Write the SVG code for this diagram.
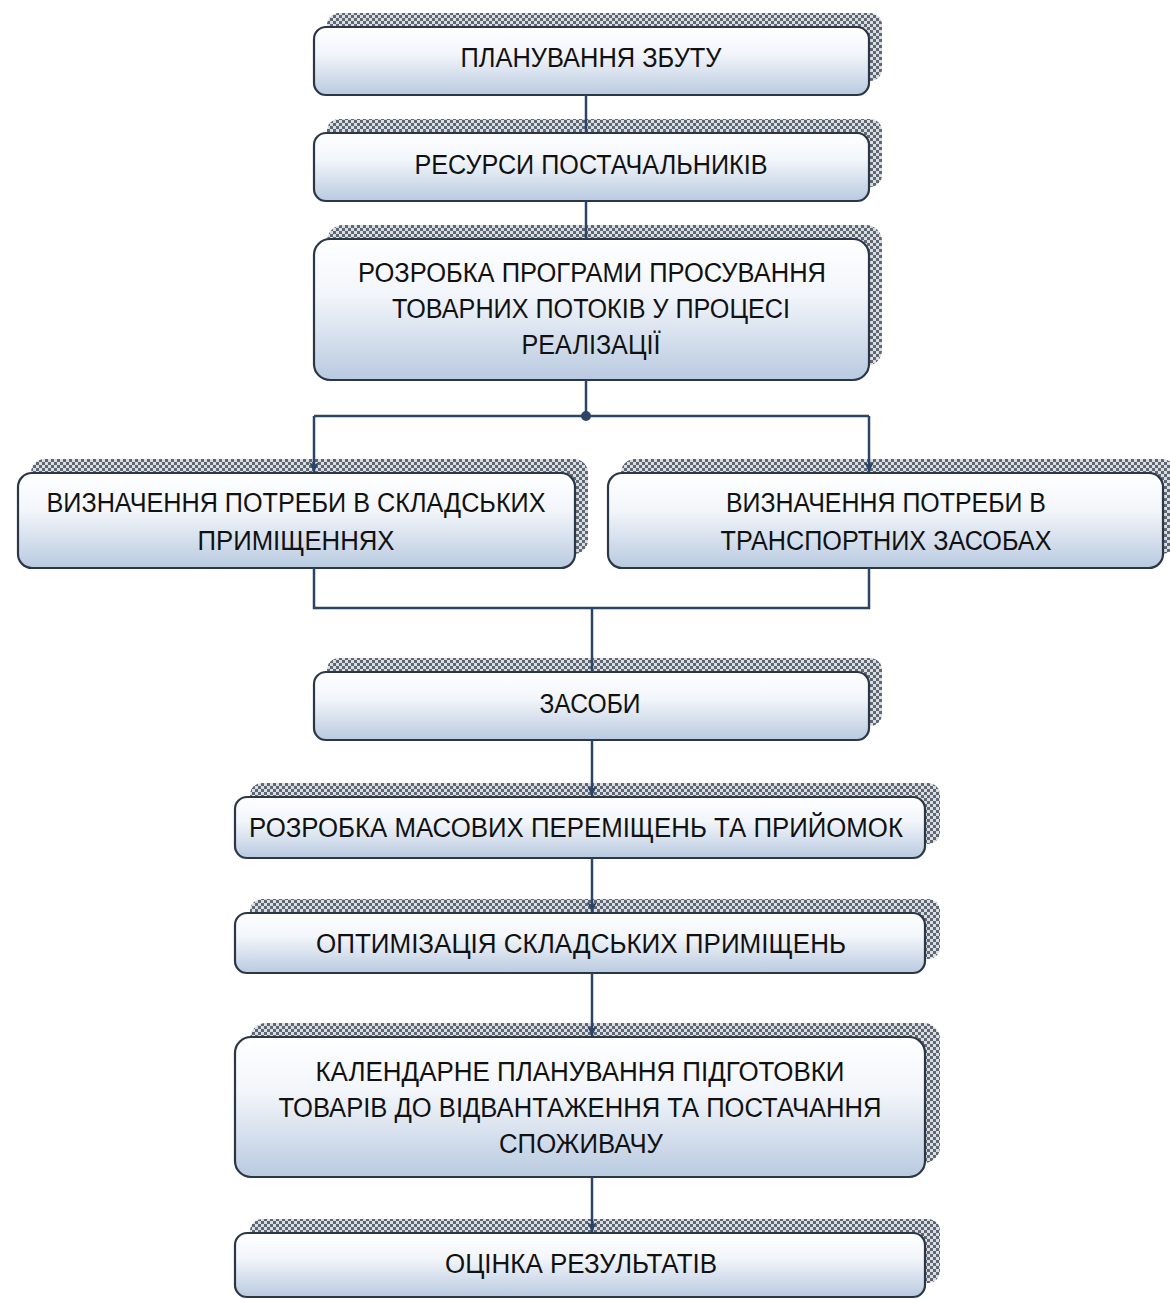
<svg xmlns="http://www.w3.org/2000/svg" width="1170" height="1299" viewBox="0 0 1170 1299">
<defs>
<linearGradient id="fillG" x1="0" y1="0" x2="0" y2="1">
<stop offset="0" stop-color="#ffffff"/>
<stop offset="0.4" stop-color="#f2f5fa"/>
<stop offset="1" stop-color="#b9cae0"/>
</linearGradient>
<pattern id="chk" width="6" height="6" patternUnits="userSpaceOnUse">
<rect width="6" height="6" fill="#dadde2"/>
<rect width="3" height="3" fill="#5f6772"/>
<rect x="3" y="3" width="3" height="3" fill="#5f6772"/>
</pattern>
<marker id="arr" viewBox="0 0 10 10" refX="10" refY="5" markerWidth="4" markerHeight="4" orient="auto" markerUnits="strokeWidth">
<path d="M0,0 L10,5 L0,10 L3,5 z" fill="#2c4566"/>
</marker>
</defs>
<style>
.sh{fill:url(#chk);}
.bx{fill:url(#fillG);stroke:#2b3747;stroke-width:2.2;}
.t{font-family:"Liberation Sans",Arial,sans-serif;font-size:27px;fill:#111;text-anchor:middle;}
.c{fill:none;stroke:#2c4566;stroke-width:2.5;}
</style>
<rect width="1170" height="1299" fill="#ffffff"/>

<g id="n1">
<rect class="sh" x="327" y="13" width="555" height="68" rx="12"/>
<rect class="bx" x="314" y="27" width="555" height="68" rx="12"/>
<text class="t" x="591" y="67" textLength="261" lengthAdjust="spacingAndGlyphs">ПЛАНУВАННЯ ЗБУТУ</text>
</g>
<g id="n2">
<rect class="sh" x="327" y="119" width="555" height="68" rx="12"/>
<rect class="bx" x="314" y="133" width="555" height="68" rx="12"/>
<text class="t" x="591" y="174" textLength="353" lengthAdjust="spacingAndGlyphs">РЕСУРСИ ПОСТАЧАЛЬНИКІВ</text>
</g>
<g id="n3">
<rect class="sh" x="327" y="225" width="555" height="141" rx="16"/>
<rect class="bx" x="314" y="239" width="555" height="141" rx="16"/>
<text class="t" x="592" y="282" textLength="468" lengthAdjust="spacingAndGlyphs">РОЗРОБКА ПРОГРАМИ ПРОСУВАННЯ</text>
<text class="t" x="591" y="318" textLength="398" lengthAdjust="spacingAndGlyphs">ТОВАРНИХ ПОТОКІВ У ПРОЦЕСІ</text>
<text class="t" x="591" y="354" textLength="139" lengthAdjust="spacingAndGlyphs">РЕАЛІЗАЦІЇ</text>
</g>
<g id="n4">
<rect class="sh" x="31" y="459" width="557" height="95" rx="14"/>
<rect class="bx" x="18" y="473" width="557" height="95" rx="14"/>
<text class="t" x="296" y="512" textLength="499" lengthAdjust="spacingAndGlyphs">ВИЗНАЧЕННЯ ПОТРЕБИ В СКЛАДСЬКИХ</text>
<text class="t" x="296" y="550" textLength="197" lengthAdjust="spacingAndGlyphs">ПРИМІЩЕННЯХ</text>
</g>
<g id="n5">
<rect class="sh" x="621" y="459" width="555" height="95" rx="14"/>
<rect class="bx" x="608" y="473" width="555" height="95" rx="14"/>
<text class="t" x="886" y="512" textLength="320" lengthAdjust="spacingAndGlyphs">ВИЗНАЧЕННЯ ПОТРЕБИ В</text>
<text class="t" x="886" y="550" textLength="331" lengthAdjust="spacingAndGlyphs">ТРАНСПОРТНИХ ЗАСОБАХ</text>
</g>
<g id="n6">
<rect class="sh" x="327" y="658" width="555" height="68" rx="12"/>
<rect class="bx" x="314" y="672" width="555" height="68" rx="12"/>
<text class="t" x="590" y="713" textLength="101" lengthAdjust="spacingAndGlyphs">ЗАСОБИ</text>
</g>
<g id="n7">
<rect class="sh" x="250" y="783" width="690" height="61" rx="12"/>
<rect class="bx" x="235" y="797" width="690" height="61" rx="12"/>
<text class="t" x="576" y="837" textLength="654" lengthAdjust="spacingAndGlyphs">РОЗРОБКА МАСОВИХ ПЕРЕМІЩЕНЬ ТА ПРИЙОМОК</text>
</g>
<g id="n8">
<rect class="sh" x="250" y="899" width="690" height="60" rx="12"/>
<rect class="bx" x="235" y="913" width="690" height="60" rx="12"/>
<text class="t" x="581" y="953" textLength="530" lengthAdjust="spacingAndGlyphs">ОПТИМІЗАЦІЯ СКЛАДСЬКИХ ПРИМІЩЕНЬ</text>
</g>
<g id="n9">
<rect class="sh" x="250" y="1023" width="690" height="140" rx="16"/>
<rect class="bx" x="235" y="1037" width="690" height="140" rx="16"/>
<text class="t" x="580" y="1081" textLength="529" lengthAdjust="spacingAndGlyphs">КАЛЕНДАРНЕ ПЛАНУВАННЯ ПІДГОТОВКИ</text>
<text class="t" x="580" y="1117" textLength="603" lengthAdjust="spacingAndGlyphs">ТОВАРІВ ДО ВІДВАНТАЖЕННЯ ТА ПОСТАЧАННЯ</text>
<text class="t" x="581" y="1153" textLength="164" lengthAdjust="spacingAndGlyphs">СПОЖИВАЧУ</text>
</g>
<g id="n10">
<rect class="sh" x="250" y="1219" width="690" height="64" rx="12"/>
<rect class="bx" x="235" y="1233" width="690" height="64" rx="12"/>
<text class="t" x="581" y="1273" textLength="272" lengthAdjust="spacingAndGlyphs">ОЦІНКА РЕЗУЛЬТАТІВ</text>
</g>

<g id="connectors">
<path class="c" d="M586,95 V133"/>
<path class="c" d="M586,201 V239"/>
<path class="c" d="M586,380 V416"/>
<path class="c" d="M314,416 H869"/>
<circle cx="586" cy="416" r="5" fill="#2c4566"/>
<path class="c" d="M314,416 V472" marker-end="url(#arr)"/>
<path class="c" d="M869,416 V472" marker-end="url(#arr)"/>
<path class="c" d="M314,568 V608 H869 V568"/>
<path class="c" d="M592,608 V672"/>
<path class="c" d="M592,740 V796" marker-end="url(#arr)"/>
<path class="c" d="M592,858 V912" marker-end="url(#arr)"/>
<path class="c" d="M592,973 V1036" marker-end="url(#arr)"/>
<path class="c" d="M592,1177 V1232" marker-end="url(#arr)"/>
</g>
</svg>
